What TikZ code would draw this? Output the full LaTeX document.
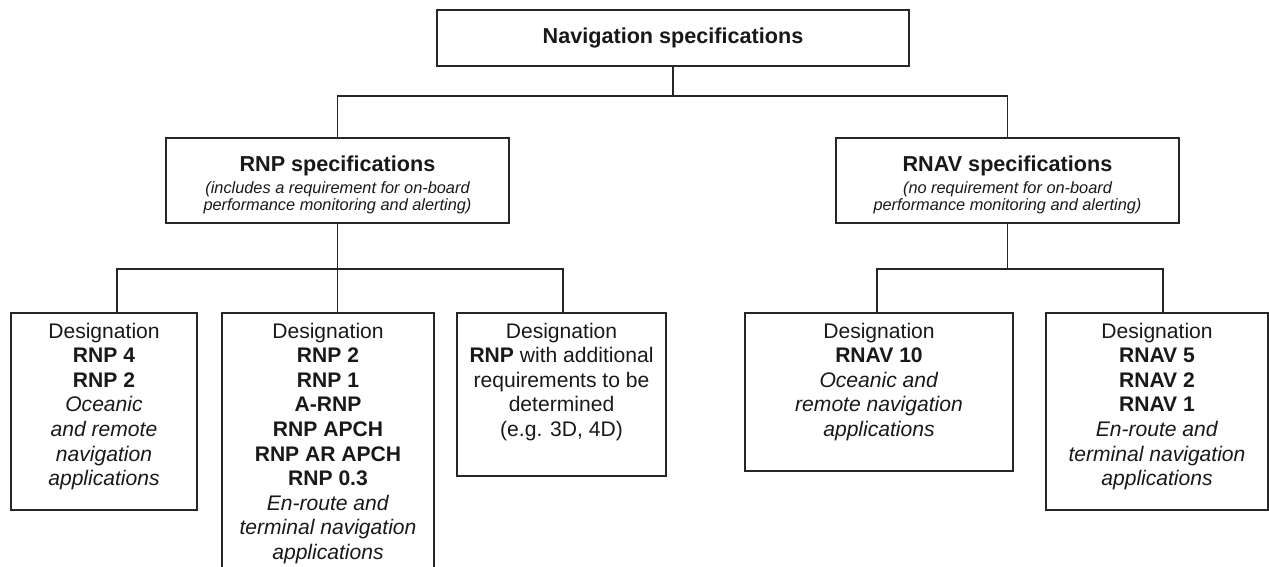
\documentclass[tikz,border=0pt]{standalone}
\usepackage{fontspec}
\setmainfont{Liberation Sans}
\usepackage{amsmath}

\begin{document}
\begin{tikzpicture}[x=0.02cm, y=-0.02cm, line width=0.9pt, draw=black!85, text=black!90,
		topbox/.style={draw, rectangle, minimum width=9.44cm, minimum height=1.12cm, font=\fontsize{12.3}{14}\selectfont\bfseries},
		specbox/.style={draw, rectangle, align=center, minimum width=6.86cm, minimum height=1.7cm, font=\fontsize{9.3}{9.9}\selectfont\itshape},
		desbox/.style={draw, rectangle, anchor=north, inner sep=0pt, font=\fontsize{12}{14}\selectfont}]
				\useasboundingbox (0,0) rectangle (1269,567);
				\node[topbox] (N)at(673, 38) {Navigation specifications};
				\node[specbox] (P)at(337.5, 180.5) {{\fontsize{12.3}{14}\selectfont\bfseries\upshape\rule{0pt}{0.5cm}RNP specifications}\\[2.3pt](includes a requirement for on-board\\performance monitoring and alerting)};
				\node[specbox] (V)at(1007.5, 180.5) {{\fontsize{12.3}{14}\selectfont\bfseries\upshape\rule{0pt}{0.5cm}RNAV specifications}\\[2.3pt](no requirement for on-board\\performance monitoring and alerting)};
				\node[desbox] (P1)at(104, 312) {\parbox[t][3.94cm][t]{3.72cm}{\centering\vspace*{0.2cm}Designation\\\textbf{RNP 4}\\\textbf{RNP 2}\\\textit{Oceanic}\\\textit{and remote}\\\textit{navigation}\\\textit{applications}}};
				\node[desbox] (P2)at(328, 312) {\parbox[t][5.4cm][t]{4.24cm}{\centering\vspace*{0.2cm}Designation\\\textbf{RNP 2}\\\textbf{RNP 1}\\\textbf{A-RNP}\\\textbf{RNP APCH}\\\textbf{RNP AR APCH}\\\textbf{RNP 0.3}\\\textit{En-route and}\\\textit{terminal navigation}\\\textit{applications}}};
				\node[desbox] (P3)at(561.5, 312) {\parbox[t][3.26cm][t]{4.18cm}{\centering\vspace*{0.2cm}Designation\\\textbf{RNP} with additional\\requirements to be\\determined\\(e.g. 3D, 4D)}};
				\node[desbox] (V1)at(879, 312) {\parbox[t][3.16cm][t]{5.36cm}{\centering\vspace*{0.2cm}Designation\\\textbf{RNAV 10}\\\textit{Oceanic and}\\\textit{remote navigation}\\\textit{applications}}};
				\node[desbox] (V2)at(1157, 312) {\parbox[t][3.94cm][t]{4.44cm}{\centering\vspace*{0.2cm}Designation\\\textbf{RNAV 5}\\\textbf{RNAV 2}\\\textbf{RNAV 1}\\\textit{En-route and}\\\textit{terminal navigation}\\\textit{applications}}};
				\draw (N.south) -- ++(0,29) -| (P.north);
				\draw (N.south) -- ++(0,29) -| (V.north);
				\draw (P.south) -- (P.south |- P2.north);
				\draw ([xshift=0.26cm]P1.north) -- ++(0,-43) -| ([xshift=0.03cm]P3.north);
				\draw (V.south) -- ++(0,46);
				\draw ([xshift=-0.04cm]V1.north) -- ++(0,-43) -| ([xshift=0.12cm]V2.north);
			\end{tikzpicture}
\end{document}
